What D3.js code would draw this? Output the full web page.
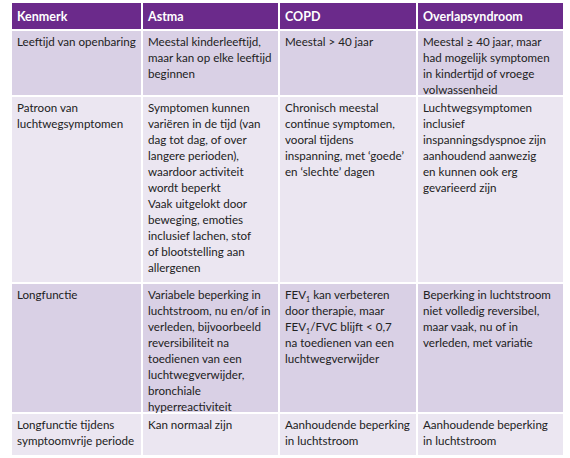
<!DOCTYPE html>
<html><head><meta charset="utf-8">
<script src="https://cdn.jsdelivr.net/npm/d3@7"></script>
<style>body{margin:0;background:#fff}</style>
</head><body><svg id="tbl" width="570" height="458"></svg>
<script>
const columns = ["Kenmerk", "Astma", "COPD", "Overlapsyndroom"];
const rowKeys = ["leeftijd", "patroon", "longfunctie", "symptoomvrij"];

const kenmerk = [
  ["Leeftijd van openbaring"],
  ["Patroon van", "luchtwegsymptomen"],
  ["Longfunctie"],
  ["Longfunctie tijdens", "symptoomvrije periode"]
];
const astma = [
  ["Meestal kinderleeftijd,", "maar kan op elke leeftijd", "beginnen"],
  ["Symptomen kunnen", "variëren in de tijd (van", "dag tot dag, of over", "langere perioden),", "waardoor activiteit", "wordt beperkt", "Vaak uitgelokt door", "beweging, emoties", "inclusief lachen, stof", "of blootstelling aan", "allergenen"],
  ["Variabele beperking in", "luchtstroom, nu en/of in", "verleden, bijvoorbeeld", "reversibiliteit na", "toedienen van een", "luchtwegverwijder,", "bronchiale", "hyperreactiviteit"],
  ["Kan normaal zijn"]
];
const copd = [
  ["Meestal > 40 jaar"],
  ["Chronisch meestal", "continue symptomen,", "vooral tijdens", "inspanning, met ‘goede’", "en ‘slechte’ dagen"],
  ["FEV_1 kan verbeteren", "door therapie, maar", "FEV_1/FVC blijft < 0,7", "na toedienen van een", "luchtwegverwijder"],
  ["Aanhoudende beperking", "in luchtstroom"]
];
const overlap = [
  ["Meestal ≥ 40 jaar, maar", "had mogelijk symptomen", "in kindertijd of vroege", "volwassenheid"],
  ["Luchtwegsymptomen", "inclusief", "inspanningsdyspnoe zijn", "aanhoudend aanwezig", "en kunnen ook erg", "gevarieerd zijn"],
  ["Beperking in luchtstroom", "niet volledig reversibel,", "maar vaak, nu of in", "verleden, met variatie"],
  ["Aanhoudende beperking", "in luchtstroom"]
];
const cells = [kenmerk, astma, copd, overlap];

const svg = d3.select("#tbl");
const font = "'Lato', 'Open Sans', sans-serif";

const x = d3.scaleOrdinal().domain(columns).range([12, 143, 280, 418]);
const colEnd = d3.scaleOrdinal().domain(columns).range([141, 278, 416, 563]);
const y = d3.scaleOrdinal().domain(["header", ...rowKeys]).range([3, 31, 97, 284, 414]);
const yEnd = d3.scaleOrdinal().domain(["header", ...rowKeys]).range([29, 95, 282, 412, 455]);
const fill = d3.scaleOrdinal().domain(["header", ...rowKeys])
  .range(["#6b2a8b", "#d9d0e5", "#ebe6f1", "#d9d0e5", "#ebe6f1"]);

const lineH = 16;

function addLine(g, str, i) {
  const t = g.append("text").attr("x", 0).attr("y", i * lineH);
  let shift = 0;
  str.split(/(_1)/).filter(p => p).forEach(part => {
    if (part === "_1") {
      t.append("tspan").attr("font-size", 7).attr("dy", 3).text("1");
      shift = -3;
    } else {
      t.append("tspan").attr("dy", shift).text(part);
      shift = 0;
    }
  });
}

// header
columns.forEach(c => {
  svg.append("rect").attr("x", x(c)).attr("y", y("header"))
    .attr("width", colEnd(c) - x(c)).attr("height", yEnd("header") - y("header"))
    .attr("fill", fill("header"));
  svg.append("text").attr("x", x(c) + 5).attr("y", y("header") + 18)
    .attr("fill", "#fff").attr("font-family", font).attr("font-weight", "bold")
    .attr("font-size", 12.5).text(c);
});

rowKeys.forEach((r, ri) => {
  columns.forEach((c, ci) => {
    svg.append("rect").attr("x", x(c)).attr("y", y(r))
      .attr("width", colEnd(c) - x(c)).attr("height", yEnd(r) - y(r))
      .attr("fill", fill(r));
    const g = svg.append("g").attr("transform", `translate(${x(c) + 5},${y(r) + 15})`)
      .attr("font-family", font).attr("font-size", 11.6).attr("fill", "#222");
    cells[ci][ri].forEach((s, i) => addLine(g, s, i));
  });
});
</script></body></html>
